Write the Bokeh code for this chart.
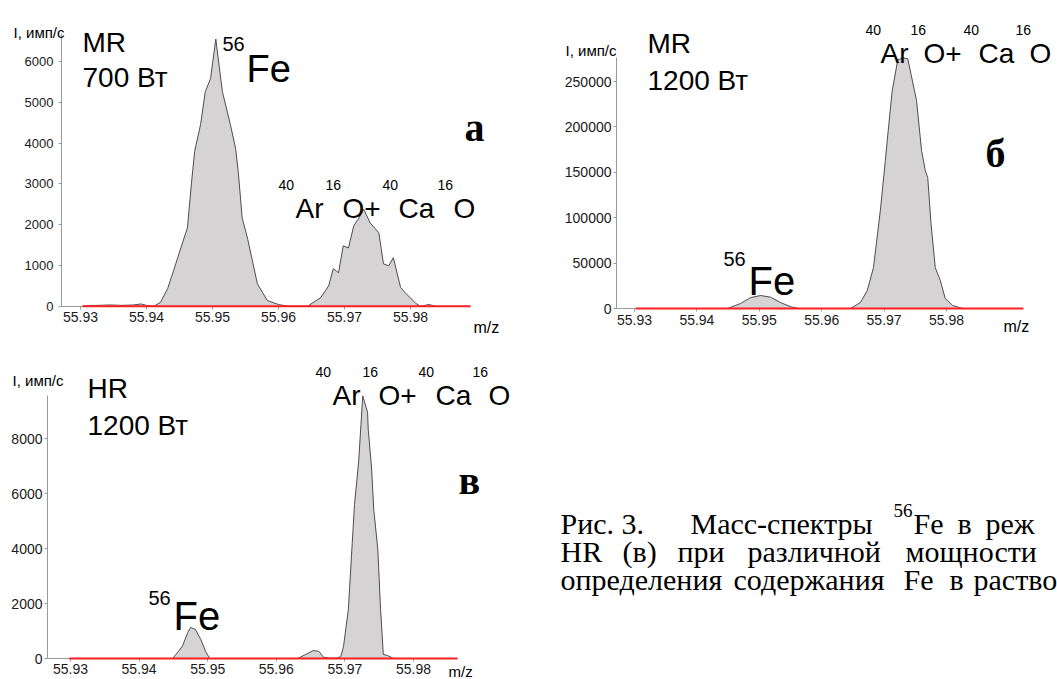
from bokeh.plotting import figure
from bokeh.layouts import row, column
from bokeh.models import Range1d, FixedTicker, PrintfTickFormatter, Label
from bokeh.core.properties import value
from bokeh.embed import file_html
from bokeh.resources import INLINE

# ---------------- data ----------------
MZ_TICKS = [55.93, 55.94, 55.95, 55.96, 55.97, 55.98]
Y_TICKS_A = [0, 1000, 2000, 3000, 4000, 5000, 6000]
Y_TICKS_B = [0, 50000, 100000, 150000, 200000, 250000]
Y_TICKS_C = [0, 2000, 4000, 6000, 8000]

# panel a: MR, 700 W
MZ_A = [55.9303, 55.9325, 55.9345, 55.9362, 55.9380, 55.9392, 55.9400, 55.9411,
        55.9421, 55.9432, 55.9441, 55.9452, 55.9462, 55.9468, 55.9473, 55.9482,
        55.9489, 55.9497, 55.9505, 55.9515, 55.9527, 55.9535, 55.9539, 55.9545,
        55.9553, 55.9568, 55.9583, 55.9600, 55.9615, 55.9644, 55.9664, 55.9676,
        55.9683, 55.9691, 55.9698, 55.9706, 55.9714, 55.9721, 55.9729, 55.9739,
        55.9752, 55.9759, 55.9767, 55.9774, 55.9785, 55.9792, 55.9808, 55.9815,
        55.9828, 55.9838]
I_A = [0, 20, 30, 20, 30, 55, 20, 0,
       90, 430, 870, 1430, 1920, 3000, 3800, 4460,
       5260, 5580, 6550, 5260, 4460, 3870, 3300, 2160,
       1670, 550, 140, 40, 0, 0, 210, 500,
       920, 820, 1480, 1430, 1970, 2140, 2380, 2040,
       1800, 1040, 990, 1190, 460, 330, 70, 0,
       40, 0]
BASE_A_MZ = [55.9303, 55.9891]
BASE_A_I = [0, 0]

# panel b: MR, 1200 W
MZ_B = [55.9302, 55.9449, 55.9470, 55.9486, 55.9502, 55.9518, 55.9534, 55.9550, 55.9563,
        55.9646, 55.9662, 55.9673, 55.9683, 55.9694, 55.9702, 55.9705, 55.9713, 55.9722,
        55.9731, 55.9738, 55.9752, 55.9760, 55.9766, 55.9770, 55.9775, 55.9782, 55.9790,
        55.9798, 55.9810, 55.9826]
I_B = [0, 0, 5500, 12000, 14300, 12500, 6600, 2000, 0,
       0, 6600, 19800, 45200, 108000, 163000, 185000, 240000, 274000,
       276000, 275000, 229000, 174000, 152000, 144000, 95000, 45000, 31000,
       11000, 3300, 0]
BASE_B_MZ = [55.9302, 55.9923]
BASE_B_I = [0, 0]

# panel c: HR, 1200 W
MZ_C = [55.9298, 55.9449, 55.9463, 55.9471, 55.9475, 55.9482, 55.9490, 55.9497, 55.9503,
        55.9631, 55.9643, 55.9654, 55.9662, 55.9669, 55.9679, 55.9689, 55.9694, 55.9698,
        55.9705, 55.9714, 55.9720, 55.9726, 55.9733, 55.9734, 55.9739, 55.9742, 55.9748,
        55.9752, 55.9756, 55.9762, 55.9771]
I_C = [0, 0, 440, 950, 1130, 1060, 690, 255, 0,
       0, 150, 290, 260, 40, 10, 20, 70, 440,
       1780, 5600, 7140, 9550, 8960, 8340, 6890, 5430, 3970,
       1790, 150, 110, 0]
BASE_C_MZ = [55.9298, 55.9864]
BASE_C_I = [0, 0]

# ---------------- style ----------------
SANS = "Liberation Sans"
SERIF = "Liberation Serif"
FILL = "#d6d3d4"
EDGE = "#4d4d4d"
RED = "#ff2020"
AXIS = "#9a9a9a"
TXT = "#1a1a1a"

# geometry in page pixels: figure box, axis box, axis calibration
GEOM = {
    "a": dict(ox=0, oy=0, w=548, h=338, frame=(61, 470, 33, 307),
              xcal=((80, 55.93), (410, 55.98)), ycal=((305.7, 0), (61, 6000))),
    "b": dict(ox=548, oy=0, w=509, h=338, frame=(616, 1023, 57, 309),
              xcal=((634, 55.93), (946, 55.98)), ycal=((308, 0), (81, 250000))),
    "c": dict(ox=0, oy=338, w=548, h=341, frame=(47, 457, 395, 660),
              xcal=((70, 55.93), (413, 55.98)), ycal=((658, 0), (438, 8000))),
}


def build(g, mz, inten, bmz, bi, yticks, ysize, xsize, ystand, xstand):
    ox, oy, w, h = g["ox"], g["oy"], g["w"], g["h"]
    fl, fr, ft, fb = g["frame"]
    (xp0, xv0), (xp1, xv1) = g["xcal"]
    (yp0, yv0), (yp1, yv1) = g["ycal"]

    def fx(px):
        return xv0 + (px - xp0) * (xv1 - xv0) / (xp1 - xp0)

    def fy(py):
        return yv0 + (py - yp0) * (yv1 - yv0) / (yp1 - yp0)

    p = figure(width=w, height=h,
               x_range=Range1d(fx(ox), fx(ox + w)), y_range=Range1d(fy(oy + h), fy(oy)),
               min_border=0, min_border_left=0, min_border_right=0,
               min_border_top=0, min_border_bottom=0,
               output_backend="svg", toolbar_location=None)
    p.outline_line_color = None
    p.xgrid.visible = False
    p.ygrid.visible = False
    p.background_fill_color = "white"
    p.border_fill_color = "white"

    p.xaxis.fixed_location = 0
    p.xaxis.bounds = (fx(fl), fx(fr))
    p.yaxis.fixed_location = fx(fl)
    p.yaxis.bounds = (0, fy(ft))

    p.xaxis.ticker = FixedTicker(ticks=MZ_TICKS)
    p.xaxis.formatter = PrintfTickFormatter(format="%.2f")
    p.yaxis.ticker = FixedTicker(ticks=yticks)
    p.yaxis.formatter = PrintfTickFormatter(format="%d")
    for ax, size, st in ((p.xaxis, xsize, xstand), (p.yaxis, ysize, ystand)):
        ax.axis_line_color = AXIS
        ax.axis_line_width = 1
        ax.major_tick_line_color = AXIS
        ax.major_tick_in = 0
        ax.major_tick_out = 3
        ax.minor_tick_line_color = None
        ax.major_label_text_font = SANS
        ax.major_label_text_font_size = f"{size}px"
        ax.major_label_text_color = TXT
        ax.major_label_standoff = st

    p.varea(x=mz, y1=0, y2=inten, fill_color=FILL)
    p.line(x=mz, y=inten, line_color=EDGE, line_width=1)
    p.line(x=bmz, y=bi, line_color=RED, line_width=2, level="overlay")
    return p, fx, fy


def lab(p, fx, fy, text, ix, iy, size, font=SANS, style="normal"):
    p.add_layout(Label(x=fx(ix), y=fy(iy), text=text, text_font=font,
                       text_font_size=f"{size}px", text_font_style=style,
                       text_color="#000000", text_baseline="alphabetic",
                       text_align="left"))


def aro(p, fx, fy, xs, base, big=28, small=14):
    # 40Ar16O+40Ca16O : superscripts and main parts
    parts = [("40", True), ("Ar", False), ("16", True), ("O+", False),
             ("40", True), ("Ca", False), ("16", True), ("O", False)]
    for (t, sup), x in zip(parts, xs):
        if sup:
            lab(p, fx, fy, t, x, base - 24, small)
        else:
            lab(p, fx, fy, t, x, base, big)


# ---- panel a ----
pa, fxa, fya = build(GEOM["a"], MZ_A, I_A, BASE_A_MZ, BASE_A_I, Y_TICKS_A, 13, 14, 5, 3)
lab(pa, fxa, fya, "I, имп/с", 13, 32, 15)
lab(pa, fxa, fya, "MR", 82, 42, 28)
lab(pa, fxa, fya, "700 Вт", 82, 77, 28)
lab(pa, fxa, fya, "56", 222, 43, 20)
lab(pa, fxa, fya, "Fe", 246, 68, 38)
lab(pa, fxa, fya, "а", 464, 127, 40, SERIF, "bold")
aro(pa, fxa, fya, [278, 295, 325, 342, 382, 398, 437, 453], 208)
lab(pa, fxa, fya, "m/z", 473, 327, 16)

# ---- panel b ----
pb, fxb, fyb = build(GEOM["b"], MZ_B, I_B, BASE_B_MZ, BASE_B_I, Y_TICKS_B, 14, 14, 2, 3)
lab(pb, fxb, fyb, "I, имп/с", 565, 50, 15)
lab(pb, fxb, fyb, "MR", 647, 43, 28)
lab(pb, fxb, fyb, "1200 Вт", 647, 80, 28)
aro(pb, fxb, fyb, [865, 880, 910, 923, 963, 978, 1015, 1029], 53)
lab(pb, fxb, fyb, "б", 985, 153, 40, SERIF, "bold")
lab(pb, fxb, fyb, "56", 723, 258, 20)
lab(pb, fxb, fyb, "Fe", 748, 280, 40)
lab(pb, fxb, fyb, "m/z", 1003, 326, 16)

# ---- panel c ----
pc, fxc, fyc = build(GEOM["c"], MZ_C, I_C, BASE_C_MZ, BASE_C_I, Y_TICKS_C, 14, 14, 2, 2)
lab(pc, fxc, fyc, "I, имп/с", 12, 380, 15)
lab(pc, fxc, fyc, "HR", 87, 388, 28)
lab(pc, fxc, fyc, "1200 Вт", 87, 425, 28)
aro(pc, fxc, fyc, [315, 332, 362, 378, 418, 435, 472, 488], 395)
lab(pc, fxc, fyc, "в", 458, 480, 40, SERIF, "bold")
lab(pc, fxc, fyc, "56", 148, 597, 20)
lab(pc, fxc, fyc, "Fe", 173, 615, 40)
lab(pc, fxc, fyc, "m/z", 448, 671, 15)

# ---- caption ----
CX, CY, CW, CH = 548, 338, 509, 341
cap = figure(width=CW, height=CH, x_range=Range1d(0, CW), y_range=Range1d(CH, 0),
             x_axis_location=None, y_axis_location=None, min_border=0,
             min_border_left=0, min_border_right=0, min_border_top=0, min_border_bottom=0,
             output_backend="svg", toolbar_location=None)
cap.outline_line_color = None
for gr in cap.grid:
    gr.visible = False

cap_words = [("Рис. 3.", 560, 523), ("Масс-спектры", 690, 523), ("Fe", 913, 523),
             ("в", 957, 523), ("реж", 985, 523),
             ("HR", 560, 551), ("(в)", 622, 551), ("при", 677, 551),
             ("различной", 747, 551), ("мощности", 905, 551),
             ("определения", 560, 579), ("содержания", 733, 579), ("Fe", 903, 579),
             ("в", 949, 579), ("раство", 973, 579)]
cap.text(x=[w[1] - CX for w in cap_words], y=[w[2] - CY for w in cap_words],
         text=[w[0] for w in cap_words], text_font=value(SERIF),
         text_font_size=value("30px"), text_color="#000000",
         text_baseline="alphabetic", text_align="left")
cap.text(x=[893 - CX], y=[510 - CY], text=["56"], text_font=value(SERIF),
         text_font_size=value("19px"), text_color="#000000",
         text_baseline="alphabetic", text_align="left")

layout = column(row(pa, pb), row(pc, cap))
open("out.html", "w").write(file_html(layout, INLINE))
